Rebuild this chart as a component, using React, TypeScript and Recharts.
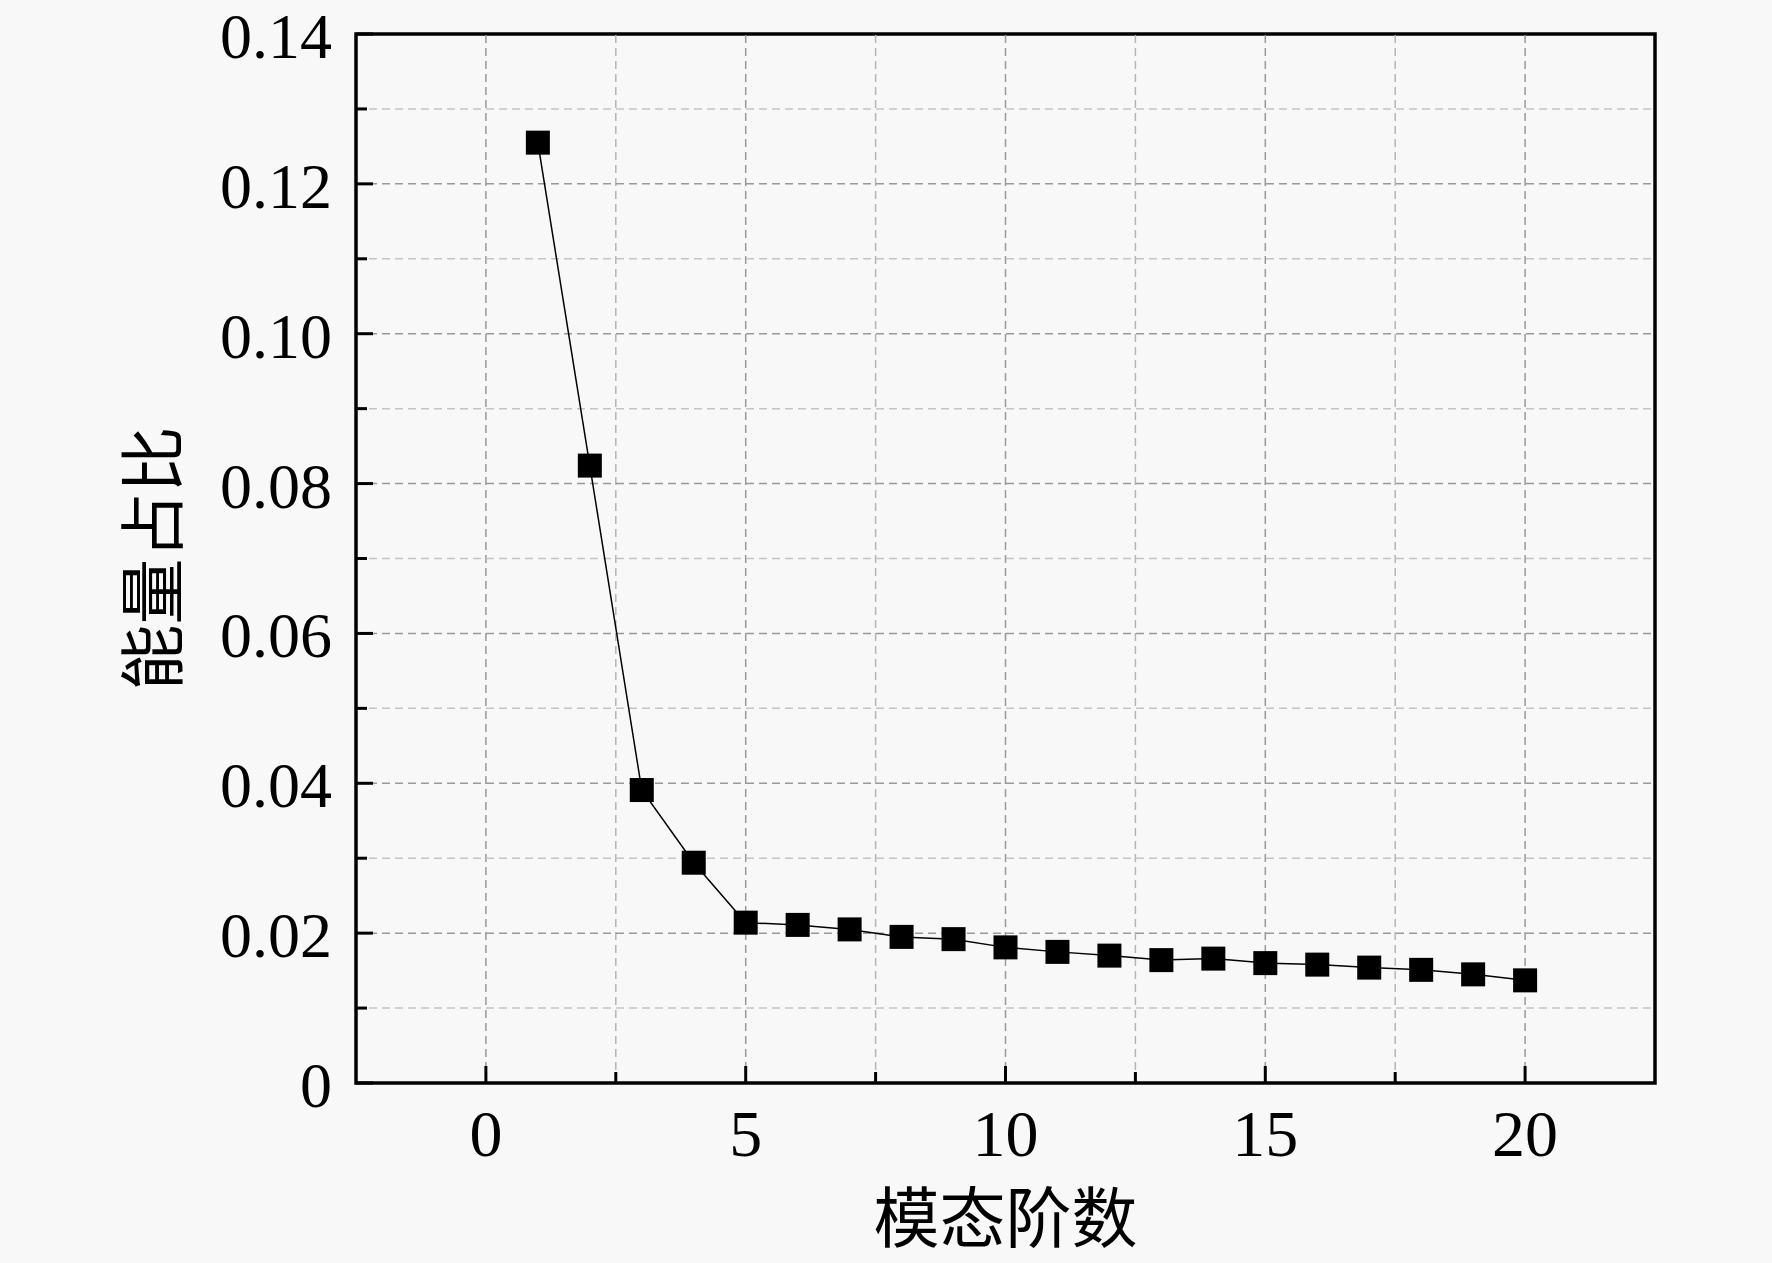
import { LineChart, Line, XAxis, YAxis, ReferenceLine, ReferenceArea } from 'recharts';

// 模态阶数 / 能量占比
const modes = [1, 2, 3, 4, 5, 6, 7, 8, 9, 10, 11, 12, 13, 14, 15, 16, 17, 18, 19, 20];
const energy = [
  0.1255, 0.0824, 0.0391, 0.0294, 0.0214, 0.0211, 0.0205, 0.0195, 0.0192, 0.0181,
  0.0175, 0.0170, 0.0164, 0.0166, 0.0160, 0.0158, 0.0154, 0.0151, 0.0145, 0.0137,
];

const xTicks = [0, 2.5, 5, 7.5, 10, 12.5, 15, 17.5, 20];
const yTicks = [0, 0.01, 0.02, 0.03, 0.04, 0.05, 0.06, 0.07, 0.08, 0.09, 0.1, 0.11, 0.12, 0.13, 0.14];
const xGrid = [0, 2.5, 5, 7.5, 10, 12.5, 15, 17.5, 20];
const yGrid = [0.01, 0.02, 0.03, 0.04, 0.05, 0.06, 0.07, 0.08, 0.09, 0.1, 0.11, 0.12, 0.13];

const data = modes.map((m, i) => ({ mode: m, v: energy[i] }));

const SERIF = '"Liberation Serif", "Times New Roman", serif';
const CJK = '"Noto Sans CJK SC", sans-serif';

const isMajorX = (v: number) => v % 5 === 0;
const isMajorY = (v: number) => Math.round(v * 100) % 2 === 0;

function XTick(props: any) {
  const { x, y, payload } = props;
  const major = isMajorX(payload.value);
  return (
    <g>
      <line x1={x} x2={x} y1={y} y2={y - (major ? 17 : 11)} stroke="#000" strokeWidth={3} />
      {major && (
        <text x={x} y={y + 73} textAnchor="middle" fontSize={66} fontFamily={SERIF} fill="#000">
          {payload.value}
        </text>
      )}
    </g>
  );
}

function YTick(props: any) {
  const { x, y, payload } = props;
  const major = isMajorY(payload.value);
  const label = payload.value === 0 ? '0' : payload.value.toFixed(2);
  return (
    <g>
      <line x1={x} x2={x + (major ? 17 : 11)} y1={y} y2={y} stroke="#000" strokeWidth={3} />
      {major && (
        <text x={x - 24} y={y + 24} textAnchor="end" fontSize={64} fontFamily={SERIF} fill="#000">
          {label}
        </text>
      )}
    </g>
  );
}

function SquareDot(props: any) {
  const { cx, cy, index } = props;
  return <rect key={index} x={cx - 12} y={cy - 12} width={24} height={24} fill="#000" />;
}

function YLabel(props: any) {
  const { viewBox } = props;
  const cy = viewBox.y + viewBox.height / 2;
  return (
    <text x={148} y={cy} transform={`rotate(-90 148 ${cy})`} textAnchor="middle" dominantBaseline="central"
      fontSize={66} fontFamily={CJK} fill="#000">
      能量占比
    </text>
  );
}

function XLabel(props: any) {
  const { viewBox } = props;
  const cx = viewBox.x + viewBox.width / 2;
  return (
    <text x={cx} y={1242} textAnchor="middle" fontSize={66} fontFamily={CJK} fill="#000">
      模态阶数
    </text>
  );
}

export default function App() {
  return (
    <div style={{ position: 'absolute', left: 0, top: 0, width: 1772, height: 1263, background: '#f8f8f8' }}>
      <LineChart width={1772} height={1263} data={data} margin={{ top: 34, right: 117, bottom: 0, left: 0 }}>
        <XAxis type="number" dataKey="mode" domain={[-2.5, 22.5]} ticks={xTicks} height={180}
          tickLine={false} tickSize={0} tickMargin={0} axisLine={false} tick={<XTick />}
          interval={0} allowDataOverflow label={<XLabel />} />
        <YAxis type="number" domain={[0, 0.14]} ticks={yTicks} width={356}
          tickLine={false} tickSize={0} tickMargin={0} axisLine={false} tick={<YTick />}
          interval={0} allowDataOverflow label={<YLabel />} />
        {xGrid.map((v) => (
          <ReferenceLine key={'x' + v} x={v} stroke={isMajorX(v) ? '#999' : '#b5b5b5'} strokeWidth={1.5}
            strokeDasharray="8 5" />
        ))}
        {yGrid.map((v) => (
          <ReferenceLine key={'y' + v} y={v} stroke={isMajorY(v) ? '#999' : '#c4c4c4'} strokeWidth={1.5}
            strokeDasharray="8 5" />
        ))}
        <ReferenceArea x1={-2.5} x2={22.5} y1={0} y2={0.14} fill="none" stroke="#000" strokeWidth={3.5}
          ifOverflow="visible" />
        <Line type="linear" dataKey="v" stroke="#000" strokeWidth={1.5} dot={<SquareDot />}
          activeDot={false} isAnimationActive={false} />
      </LineChart>
    </div>
  );
}
